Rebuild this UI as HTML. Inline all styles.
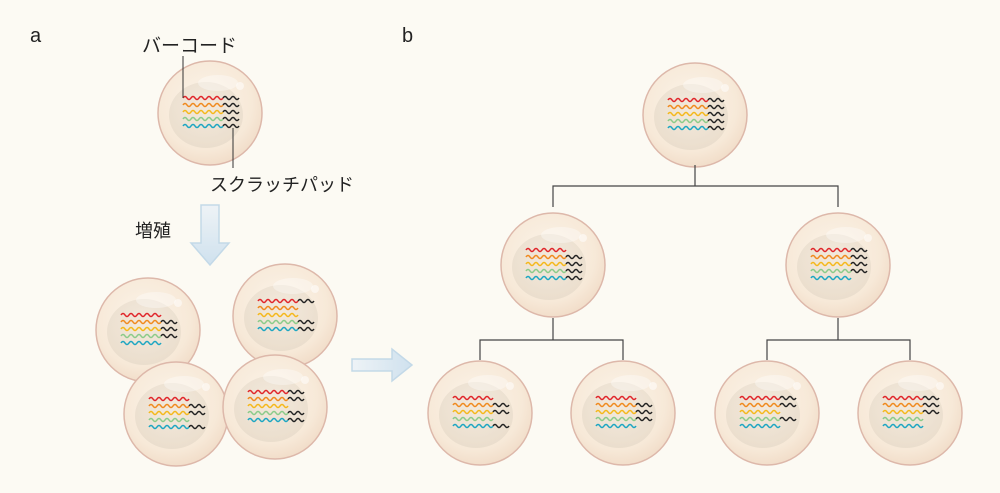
<!DOCTYPE html>
<html><head><meta charset="utf-8"><style>
html,body{margin:0;padding:0;background:#fcfaf3;}
svg{display:block}
text{font-family:"Liberation Sans","Noto Sans CJK JP",sans-serif;fill:#222}
</style></head><body>
<svg id="s" width="1000" height="493" viewBox="0 0 1000 493" xmlns="http://www.w3.org/2000/svg">
<defs>
<radialGradient id="cg" cx="0.45" cy="0.4" r="0.65">
<stop offset="0" stop-color="#fbf3e8"/><stop offset="0.7" stop-color="#f7e9d8"/><stop offset="1" stop-color="#f0dac5"/>
</radialGradient>
<radialGradient id="ng" cx="0.5" cy="0.4" r="0.6">
<stop offset="0" stop-color="#ede3d5"/><stop offset="1" stop-color="#e2d6c5"/>
</radialGradient>
<linearGradient id="ad" x1="0" y1="0" x2="0" y2="1"><stop offset="0" stop-color="#eef3f6"/><stop offset="1" stop-color="#cfe1ee"/></linearGradient>
<linearGradient id="ar" x1="0" y1="0" x2="1" y2="0"><stop offset="0" stop-color="#eef3f6"/><stop offset="1" stop-color="#cfe1ee"/></linearGradient>
</defs>
<rect width="1000" height="493" fill="#fcfaf3"/>
<text x="30" y="42" font-size="20">a</text>
<text x="402" y="42" font-size="20">b</text>
<text x="142" y="52" font-size="19">バーコード</text>
<text x="210" y="191" font-size="18">スクラッチパッド</text>
<text x="135" y="237" font-size="18">増殖</text>
<g id="cells"></g>
<line x1="183" y1="56" x2="183" y2="98" stroke="#333" stroke-width="1"/>
<line x1="233" y1="128" x2="233" y2="168" stroke="#333" stroke-width="1"/>
<path d="M201,205 h18 v38 h10 l-19,22 l-19,-22 h10 z" fill="url(#ad)" stroke="#c3d9e8" stroke-width="1.5"/>
<path d="M352,359 h40 v-10 l20,16 l-20,16 v-10 h-40 z" fill="url(#ar)" stroke="#c3d9e8" stroke-width="1.5"/>
<g stroke="#444" stroke-width="1.2" fill="none">
<path d="M695,165 V186 M553,207 V186 H838 V207"/>
<path d="M553,318 V340 M480,360 V340 H623 V360"/>
<path d="M838,318 V340 M767,360 V340 H910 V360"/>
</g>
</svg>
<script>
const cells=[
[210,113,[1,1,1,1,1]],
[148,330,[0,1,1,1,0]],
[285,316,[1,0,0,1,1]],
[176,414,[0,1,1,0,1]],
[275,407,[1,1,0,1,1]],
[695,115,[1,1,1,1,1]],
[553,265,[0,1,1,1,1]],
[838,265,[1,1,1,1,0]],
[480,413,[0,1,1,0,1]],
[623,413,[0,1,1,1,0]],
[767,413,[1,1,0,1,0]],
[910,413,[1,1,1,0,0]]];
const cols=["#e0262b","#f08a1f","#f5b81c","#8ccb8a","#1ea6c2"];
function wave(x,y,n){let d=`M${x},${y}`;for(let i=0;i<n;i++){d+=` q2,-3 4,0 q2,3 4,0`;}return d;}
let h="";
for(const [cx,cy,sp] of cells){
 h+=`<circle cx="${cx}" cy="${cy}" r="52" fill="url(#cg)" stroke="#ddb8aa" stroke-width="1.5"/>`;
 h+=`<ellipse cx="${cx-4}" cy="${cy+2}" rx="37" ry="33" fill="url(#ng)" opacity="0.6"/>`;
 h+=`<ellipse cx="${cx+8}" cy="${cy-30}" rx="20" ry="8" fill="#fff" opacity="0.35"/>`;
 h+=`<circle cx="${cx+30}" cy="${cy-27}" r="4" fill="#fff" opacity="0.5"/>`;
 for(let i=0;i<5;i++){
  const y=cy-15+7*i,x=cx-27;
  h+=`<path d="${wave(x,y,5)}" stroke="${cols[i]}" stroke-width="1.5" fill="none"/>`;
  if(sp[i])h+=`<path d="${wave(x+40,y,2)}" stroke="#222" stroke-width="1.4" fill="none"/>`;
 }
}
document.getElementById("cells").innerHTML=h;
</script>
</body></html>
